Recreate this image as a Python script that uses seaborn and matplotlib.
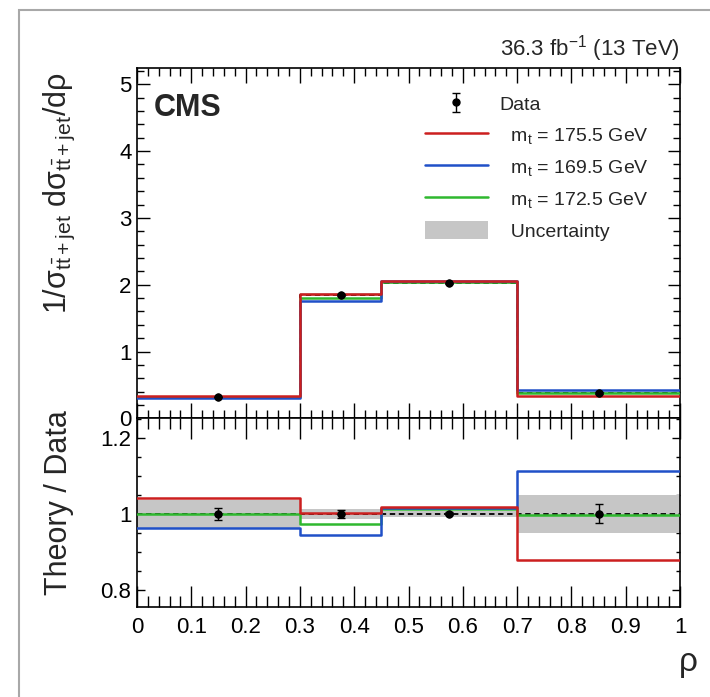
import numpy as np
import pandas as pd
import matplotlib
matplotlib.use("Agg")
import matplotlib.pyplot as plt
import seaborn as sns
from matplotlib.patches import Patch, Rectangle
from matplotlib.ticker import MultipleLocator

# ---------------- data ----------------
bin_edges = [0.0, 0.3, 0.45, 0.7, 1.0]
bin_centers = [0.15, 0.375, 0.575, 0.85]

data_vals = [0.32, 1.85, 2.02, 0.38]
data_err = [0.006, 0.018, 0.010, 0.010]
band_half = [0.012, 0.024, 0.016, 0.019]

m1755_vals = [0.333, 1.855, 2.06, 0.335]
m1695_vals = [0.308, 1.75, 2.05, 0.423]
m1725_vals = [0.320, 1.80, 2.046, 0.378]

ratio_data = [1.0, 1.0, 1.0, 1.0]
ratio_data_err = [0.016, 0.010, 0.004, 0.025]
ratio_band_half = [0.036, 0.013, 0.008, 0.050]
ratio_1755 = [1.041, 1.003, 1.019, 0.880]
ratio_1695 = [0.964, 0.946, 1.015, 1.114]
ratio_1725 = [1.000, 0.974, 1.013, 0.996]

x_ticklabels = ["0", "0.1", "0.2", "0.3", "0.4", "0.5", "0.6", "0.7",
                "0.8", "0.9", "1"]
labels = ["Data", "m$_{\\rm t}$ = 175.5 GeV", "m$_{\\rm t}$ = 169.5 GeV",
          "m$_{\\rm t}$ = 172.5 GeV", "Uncertainty"]
colors = {"175.5": "#cc1f1f", "169.5": "#2050c8", "172.5": "#2fb82f"}
band_color = "#c6c6c6"

# ---------------- style ----------------
sns.set_theme(style="ticks")
plt.rcParams["font.family"] = ["Liberation Sans", "DejaVu Sans"]
plt.rcParams["mathtext.fontset"] = "custom"
plt.rcParams["mathtext.rm"] = "Liberation Sans"
plt.rcParams["mathtext.it"] = "Liberation Sans"
plt.rcParams["mathtext.bf"] = "Liberation Sans:bold"
plt.rcParams["axes.linewidth"] = 1.2


def step_frame(vals, name):
    xs = list(bin_edges)
    ys = list(vals) + [vals[-1]]
    return pd.DataFrame({"x": xs, "y": ys, "series": name})


fig = plt.figure(figsize=(7.10, 6.97), dpi=100)
# gray outer frame
fig.patches.append(Rectangle((19 / 710, -0.05), 1.2, 1.05 - 10 / 697,
                             transform=fig.transFigure, fill=False,
                             edgecolor="#a8a8a8", linewidth=1.5, zorder=0))

L, R = 137 / 710, 680 / 710
ax1 = fig.add_axes([L, 1 - 418.3 / 697, R - L, (418.3 - 68.3) / 697])
ax2 = fig.add_axes([L, 1 - 607.3 / 697, R - L, (607.3 - 418.3) / 697])


def draw_panel(ax, dvals, derr, bhalf, r1755, r1695, r1725):
    lo = [v - h for v, h in zip(dvals, bhalf)]
    hi = [v + h for v, h in zip(dvals, bhalf)]
    ax.fill_between(bin_edges, lo + [lo[-1]], hi + [hi[-1]], step="post",
                    color=band_color, linewidth=0, zorder=1)
    dfd = step_frame(dvals, "nominal")
    sns.lineplot(data=dfd, x="x", y="y", ax=ax, drawstyle="steps-post",
                 color="black", linestyle=(0, (3, 2)), linewidth=1.3,
                 estimator=None, sort=False, legend=False, zorder=2)
    for vals, key in [(r1725, "172.5"), (r1695, "169.5"), (r1755, "175.5")]:
        df = step_frame(vals, key)
        sns.lineplot(data=df, x="x", y="y", ax=ax, drawstyle="steps-post",
                     color=colors[key], linewidth=1.8, estimator=None,
                     sort=False, legend=False, zorder=3)
    eb = ax.errorbar(bin_centers, dvals, yerr=derr, fmt="o", color="black",
                     markersize=5, ecolor="black", elinewidth=1.0,
                     capsize=3, capthick=1.0, zorder=4)
    sns.scatterplot(x=bin_centers, y=dvals, ax=ax, color="black", s=26,
                    edgecolor="black", zorder=5, legend=False)
    return eb


eb = draw_panel(ax1, data_vals, data_err, band_half,
                m1755_vals, m1695_vals, m1725_vals)
draw_panel(ax2, ratio_data, ratio_data_err, ratio_band_half,
           ratio_1755, ratio_1695, ratio_1725)

for ax in (ax1, ax2):
    ax.set_xlim(0, 1)
    ax.xaxis.set_major_locator(MultipleLocator(0.1))
    ax.xaxis.set_minor_locator(MultipleLocator(0.02))
    ax.set_xlabel("")
    ax.set_ylabel("")
    for s in ax.spines.values():
        s.set_color("black")
        s.set_linewidth(1.2)

ax1.set_ylim(0, 5.24)
ax1.yaxis.set_minor_locator(MultipleLocator(0.2))
ax1.set_yticks([0, 1, 2, 3, 4, 5])
ax1.set_yticklabels(["0", "1", "2", "3", "4", "5"])
ax1.tick_params(axis="both", which="both", direction="in", top=True,
                right=True, labelsize=16, colors="black", width=1.0)
ax1.tick_params(axis="x", which="major", length=11, labelbottom=False)
ax1.tick_params(axis="x", which="minor", length=6)
ax1.tick_params(axis="y", which="major", length=9, pad=4)
ax1.tick_params(axis="y", which="minor", length=5)

ax2.set_ylim(0.755, 1.251)
ax2.set_yticks([0.8, 1.0, 1.2])
ax2.set_yticklabels(["0.8", "1", "1.2"])
ax2.yaxis.set_minor_locator(MultipleLocator(0.05))
ax2.set_xticks([0, 0.1, 0.2, 0.3, 0.4, 0.5, 0.6, 0.7, 0.8, 0.9, 1.0])
ax2.set_xticklabels(x_ticklabels)
ax2.xaxis.set_minor_locator(MultipleLocator(0.02))
ax2.tick_params(axis="both", which="both", direction="in", top=True,
                right=True, labelsize=16, colors="black", width=1.0)
ax2.tick_params(axis="x", which="major", length=15, pad=7)
ax2.tick_params(axis="x", which="minor", length=8)
ax2.tick_params(axis="y", which="major", length=6, pad=4)
ax2.tick_params(axis="y", which="minor", length=3)

# texts
ax1.text(0.03, 0.93, "CMS", transform=ax1.transAxes, fontsize=22,
         fontweight="bold", ha="left", va="top")
ax1.text(1.0, 1.012, "36.3 fb$^{-1}$ (13 TeV)", transform=ax1.transAxes,
         fontsize=16, ha="right", va="bottom")
fig.text(59 / 710, 1 - 193.5 / 697,
         r"$\mathrm{1/}\sigma_{\mathrm{t\bar{t}+jet}}\ \mathrm{d}\sigma_{\mathrm{t\bar{t}+jet}}\mathrm{/d}\rho$",
         rotation=90, ha="center", va="center", fontsize=22)
fig.text(59 / 710, 1 - 502.5 / 697, "Theory / Data", rotation=90,
         ha="center", va="center", fontsize=22)
fig.text(688 / 710, 1 - 665 / 697, r"$\rho$", ha="center", va="center",
         fontsize=24)

# legend
h_red = plt.Line2D([], [], color=colors["175.5"], linewidth=1.8)
h_blue = plt.Line2D([], [], color=colors["169.5"], linewidth=1.8)
h_green = plt.Line2D([], [], color=colors["172.5"], linewidth=1.8)
h_unc = Patch(facecolor=band_color, edgecolor="none")
leg = ax1.legend([eb, h_red, h_blue, h_green, h_unc],
                 [labels[0], "  " + labels[1], "  " + labels[2],
                  "  " + labels[3], "  " + labels[4]],
                 loc="upper left", bbox_to_anchor=(0.530, 0.925),
                 frameon=False, fontsize=14, handlelength=3.25,
                 handleheight=1.05, handletextpad=0.6, labelspacing=0.58,
                 borderpad=0, borderaxespad=0)

fig.savefig("out.png", dpi=100, facecolor="white")
